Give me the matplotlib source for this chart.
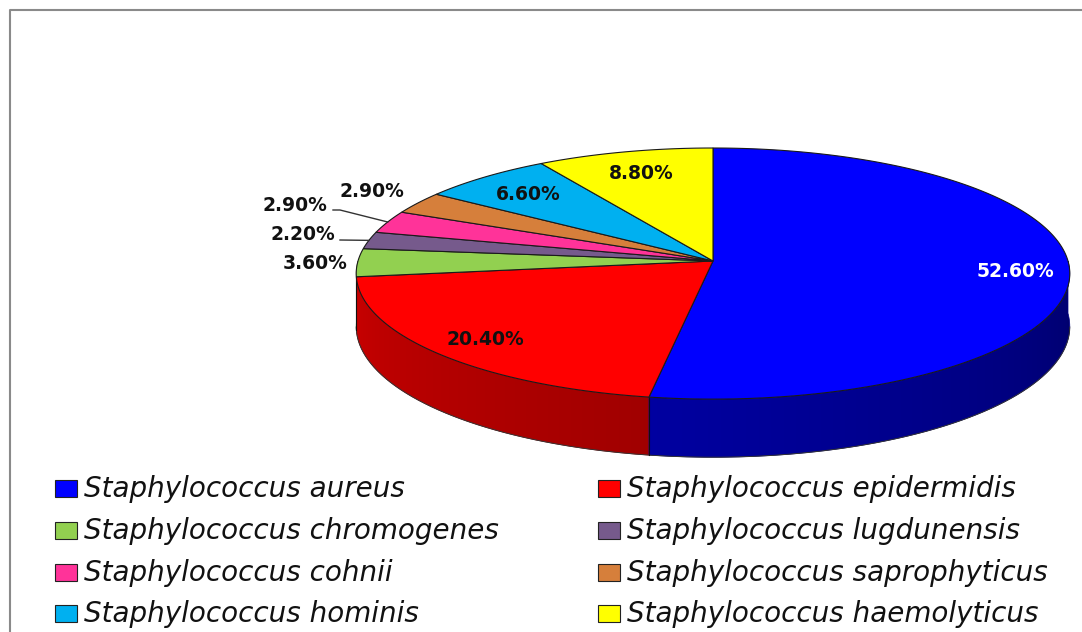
import numpy as np
import matplotlib.pyplot as plt
from matplotlib.patches import Polygon, Rectangle

# data (clockwise from 12 o'clock)
species = ['Staphylococcus aureus', 'Staphylococcus epidermidis',
           'Staphylococcus chromogenes', 'Staphylococcus lugdunensis',
           'Staphylococcus cohnii', 'Staphylococcus saprophyticus',
           'Staphylococcus hominis', 'Staphylococcus haemolyticus']
shares = [52.6, 20.4, 3.6, 2.2, 2.9, 2.9, 6.6, 8.8]
colors = ['#0000FF', '#FF0000', '#92D050', '#765A8C',
          '#FF3399', '#D67F3B', '#00B0F0', '#FFFF00']

W, H = 1082, 632
fig = plt.figure(figsize=(W / 100, H / 100), dpi=100)
ax = fig.add_axes([0, 0, 1, 1])
ax.set_xlim(0, W)
ax.set_ylim(H, 0)
ax.axis('off')

# frame
ax.plot([10, 10, W], [H, 10, 10], color='#8a8a8a', lw=1.5, solid_capstyle='butt')

# pseudo-3d pie geometry (pixel units), simple perspective
cx, cy = 713, 261
A, B, K, D = 355, 124.3, 0.1, 52.3


def proj(theta_deg, r=1.0, drop=0.0):
    t = np.radians(theta_deg)
    u = r * np.cos(t)
    v = r * np.sin(t)
    w = 1 + K * v
    return cx + A * u / w, cy - B * v / w + drop / w


bounds = 90 - 360 * np.concatenate([[0], np.cumsum(shares)]) / 100


def shade(hex_color, theta_deg):
    f = 0.42 + 0.38 * (-np.asarray(theta_deg) / 180)
    rgb = np.array([int(hex_color[i:i + 2], 16) for i in (1, 3, 5)]) / 255
    return np.clip(np.outer(f, rgb), 0, 1)


# side walls (front half only), far pieces first
sides = []
for i, col in enumerate(colors):
    t0, t1 = bounds[i], bounds[i + 1]
    lo, hi = max(t1, -180), min(t0, 0)
    if hi <= lo:
        continue
    sides.append((np.sin(np.radians((lo + hi) / 2)), lo, hi, col))
sides.sort(key=lambda s: -s[0])

for z, (_, lo, hi, col) in enumerate(sides):
    ts = np.linspace(hi, lo, 200)
    tx, ty = proj(ts)
    bx, by = proj(ts[::-1], drop=D)
    poly = Polygon(list(zip(tx, ty)) + list(zip(bx, by)), closed=True,
                   facecolor='none', edgecolor='none', zorder=1 + z * 0.01)
    ax.add_patch(poly)
    # colour along x follows the rim angle
    xmin, xmax = min(tx.min(), bx.min()), max(tx.max(), bx.max())
    gx = np.linspace(xmin, xmax, 300)
    order = np.argsort(tx)
    gt = np.interp(gx, tx[order], ts[order])
    img = shade(col, gt)[None, :, :]
    ymin, ymax = min(ty.min(), by.min()), max(ty.max(), by.max())
    im = ax.imshow(img, extent=[xmin, xmax, ymax + 1, ymin - 1], aspect='auto',
                   interpolation='bilinear', zorder=1 + z * 0.01)
    im.set_clip_path(poly)
    poly_edge = Polygon(list(zip(tx, ty)) + list(zip(bx, by)), closed=True,
                        facecolor='none', edgecolor=tuple(shade(col, (lo + hi) / 2)[0]),
                        lw=0.5, zorder=1 + z * 0.01 + 0.001)
    ax.add_patch(poly_edge)

# bottom rim and vertical seams
tb = np.linspace(-6, -174, 200)
bx, by = proj(tb, drop=D)
ax.plot(bx, by, color='#333333', lw=0.7, zorder=2)
for t in bounds:
    if -174 < t < -6:
        x0, y0 = proj(t)
        x1, y1 = proj(t, drop=D)
        ax.plot([x0, x1], [y0, y1], color='#111111', lw=0.8, zorder=2)

# top faces
for i, col in enumerate(colors):
    t0, t1 = bounds[i], bounds[i + 1]
    ts = np.linspace(t0, t1, max(3, int(abs(t0 - t1) * 2)))
    xs, ys = proj(ts)
    pts = [(cx, cy)] + list(zip(xs, ys))
    ax.add_patch(Polygon(pts, closed=True, facecolor=col, edgecolor='#1a1a1a',
                         lw=0.8, zorder=3))

# data labels
mids = (bounds[:-1] + bounds[1:]) / 2
lab_font = dict(fontsize=13.5, fontweight='bold', family='DejaVu Sans', zorder=5)
inner = {0: ('white', 0.85), 1: ('#111111', 0.84), 6: ('#111111', 0.80), 7: ('#111111', 0.80)}
for i, (c, r) in inner.items():
    x, y = proj(mids[i], r)
    ax.text(x, y + 7, f'{shares[i]:.2f}%', color=c, ha='center', va='baseline', **lab_font)

outer = {2: (315, 262), 3: (303, 233), 4: (295, 204), 5: (372, 190)}
for i, (x, y) in outer.items():
    ax.text(x, y + 7, f'{shares[i]:.2f}%', color='#111111', ha='center', va='baseline', **lab_font)

# leader lines
ex, ey = proj(mids[4])
ax.plot([333, 340, ex], [210, 210, ey], color='#333333', lw=1.0, zorder=4)
ex, ey = proj(mids[3])
ax.plot([340, ex], [240, ey], color='#333333', lw=1.0, zorder=4)

# legend
col_x = [55, 598]
row_y = [497, 539, 581, 622]
for i, (name, col) in enumerate(zip(species, colors)):
    x0 = col_x[i % 2]
    y0 = row_y[i // 2]
    ax.add_patch(Rectangle((x0, y0 - 17), 22, 17, facecolor=col, edgecolor='#222222', lw=0.8))
    ax.text(x0 + 29, y0, name, fontsize=20, style='italic', family='DejaVu Sans',
            color='#111111', ha='left', va='baseline')

ax.set_xlim(0, W)
ax.set_ylim(H, 0)
fig.savefig('out.png', dpi=100)
